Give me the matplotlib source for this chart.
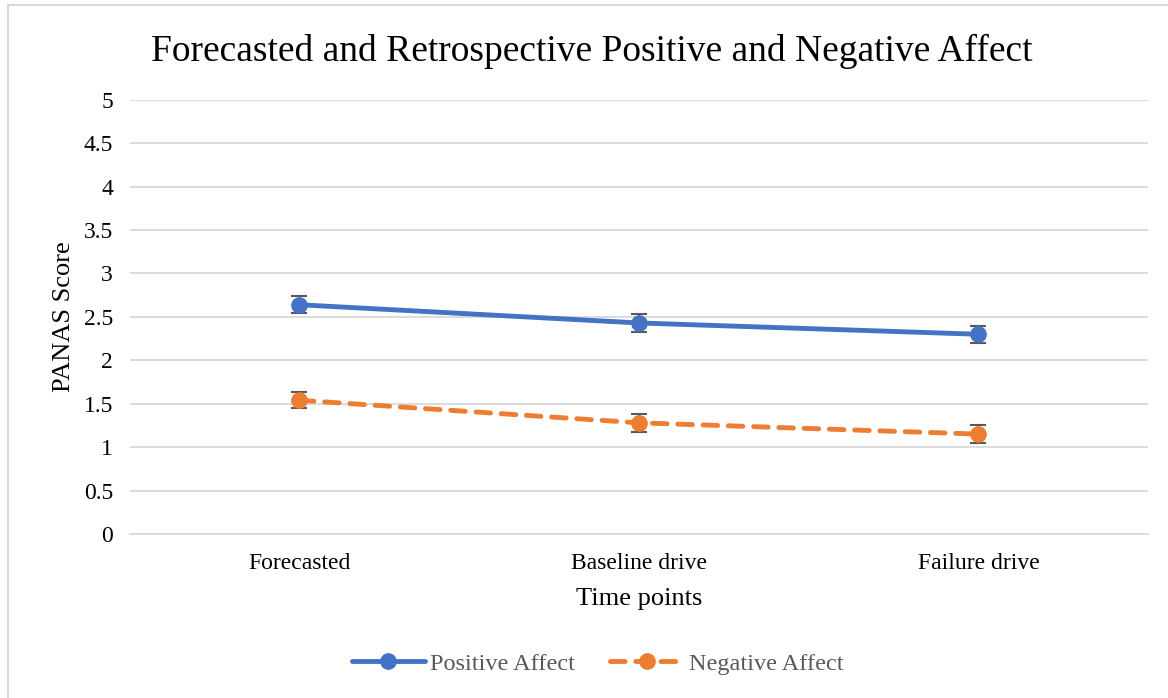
import matplotlib
matplotlib.use("Agg")
import matplotlib.pyplot as plt
from matplotlib.patches import Rectangle
from matplotlib.lines import Line2D

# data
time_points = ["Forecasted", "Baseline drive", "Failure drive"]
positive = [2.64, 2.43, 2.30]
positive_err = [0.10, 0.10, 0.10]
negative = [1.54, 1.28, 1.15]
negative_err = [0.09, 0.10, 0.10]
yticks = [0, 0.5, 1, 1.5, 2, 2.5, 3, 3.5, 4, 4.5, 5]
ytick_labels = ["0", "0.5", "1", "1.5", "2", "2.5", "3", "3.5", "4", "4.5", "5"]

plt.rcParams['font.family'] = ['Liberation Serif', 'DejaVu Serif']

fig = plt.figure(figsize=(11.68, 6.98), dpi=100)
fig.patches.append(Rectangle((8 / 1168, -0.1), 1.2, (693 + 70) / 698,
                             transform=fig.transFigure, fill=False,
                             edgecolor='#d9d9d9', linewidth=1.5))

ax = fig.add_axes([0.111, 0.235, 0.872, 0.622])
x = list(range(len(time_points)))

dash = (0, (3, 2.2))
ax.errorbar(x, positive, yerr=positive_err, color='#4472c4', linewidth=3.5,
            marker='o', markersize=11, ecolor='#595959', elinewidth=1.5,
            capsize=6, capthick=1.5, zorder=3)
ax.errorbar(x, negative, yerr=negative_err, color='#ed7d31', linewidth=3.5,
            linestyle=dash, dash_capstyle='round', marker='o',
            markersize=11, ecolor='#595959', elinewidth=1.5, capsize=6,
            capthick=1.5, zorder=3)

ax.set_xlim(-0.5, 2.5)
ax.set_ylim(0, 5)
ax.set_yticks(yticks)
ax.set_yticklabels(ytick_labels)
ax.set_xticks(x)
ax.set_xticklabels(time_points)
ax.tick_params(axis='both', length=0, labelsize=17, pad=12)
ax.tick_params(axis='x', pad=13.5)
ax.grid(axis='y', color='#d9d9d9', linewidth=1.3)
ax.set_axisbelow(True)
for s in ['top', 'right', 'left']:
    ax.spines[s].set_visible(False)
ax.spines['bottom'].set_color('#d9d9d9')
ax.spines['bottom'].set_linewidth(1.3)

ax.set_xlabel('Time points', fontsize=19, labelpad=10)
ax.set_ylabel('PANAS Score', fontsize=19, labelpad=6)
fig.text(0.507, 0.927, 'Forecasted and Retrospective Positive and Negative Affect',
         ha='center', va='center', fontsize=27)

handles = [
    Line2D([], [], color='#4472c4', linewidth=3.5, marker='o', markersize=11,
           solid_capstyle='round'),
    Line2D([], [], color='#ed7d31', linewidth=3.5, linestyle=dash,
           dash_capstyle='round', marker='o', markersize=11),
]
leg = fig.legend(handles, ['Positive Affect', 'Negative Affect'], loc='center',
                 bbox_to_anchor=(0.5116, 0.049), ncol=2, frameon=False,
                 fontsize=17.5, handlelength=3.0, columnspacing=1.45,
                 handletextpad=0.22)
for t in leg.get_texts():
    t.set_color('#595959')

plt.savefig('out.png', dpi=100)
